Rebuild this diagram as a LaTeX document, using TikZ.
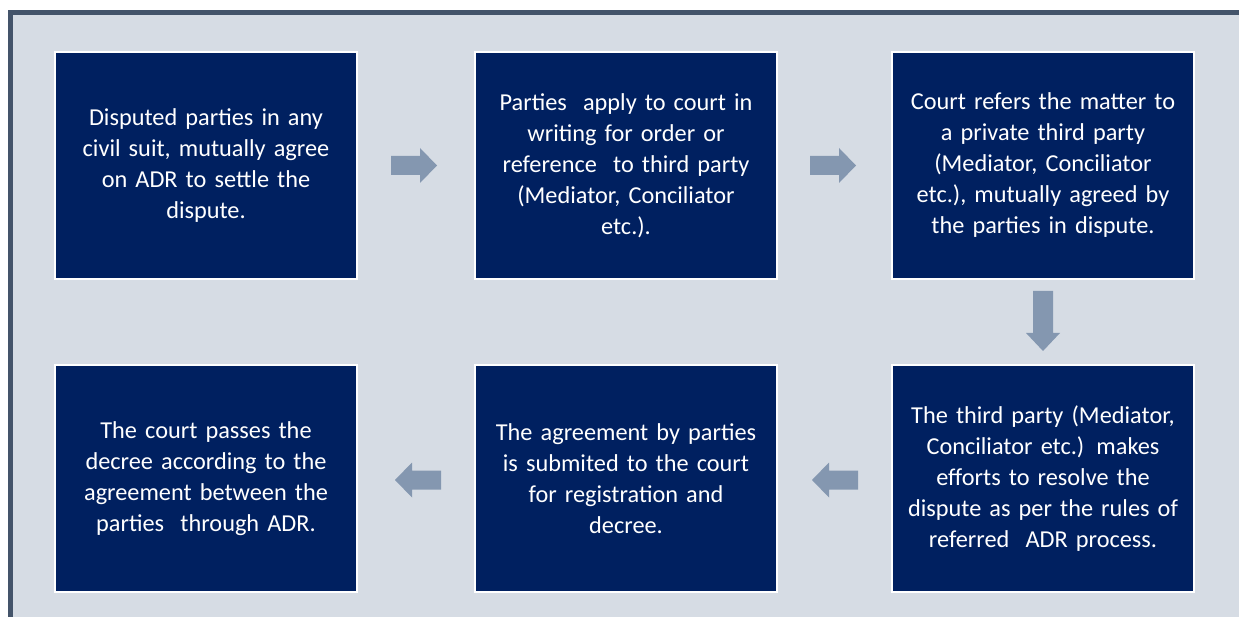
\documentclass[tikz,border=0pt]{standalone}
\usepackage{fontspec}
\setmainfont{Carlito}
\definecolor{bg}{HTML}{D6DCE4}
\definecolor{frame}{HTML}{44546A}
\definecolor{boxfill}{HTML}{002060}
\definecolor{arr}{HTML}{8497B0}
\begin{document}
\begin{tikzpicture}[x=1pt,y=-1pt,
  stepbox/.style={draw=white,line width=1.5pt,fill=boxfill,text=white,minimum width=302pt,minimum height=227pt,text width=285pt,align=center,font=\fontsize{24.3}{31}\selectfont,inner sep=0pt},
  arrowfill/.style={fill=arr,draw=none}]
\useasboundingbox (0,0) rectangle (1239,617);
\fill[white] (0,0) rectangle (1239,617);
\fill[bg] (10,12) rectangle (1239,617);
\fill[frame] (8,10) rectangle (1239,15);
\fill[frame] (8,10) rectangle (13,617);
\node[stepbox] (b1) at (206,165.5) {Disputed parties in any\\civil suit, mutually agree\\on ADR to settle the\\dispute.};
\node[stepbox] (b2) at (626,165.5) {Parties~ apply to court in\\writing for order or\\reference~ to third party\\(Mediator, Conciliator\\etc.).};
\node[stepbox] (b3) at (1043,165.5) {Court refers the matter to\\a private third party\\(Mediator, Conciliator\\etc.), mutually agreed by\\the parties in dispute.};
\node[stepbox] (b4) at (1043,478.5) {The third party (Mediator,\\Conciliator etc.) makes\\efforts to resolve the\\dispute as per the rules of\\referred~ ADR process.};
\node[stepbox] (b5) at (626,478.5) {The agreement by parties\\is submited to the court\\for registration and\\decree.};
\node[stepbox] (b6) at (206,478.5) {The court passes the\\decree according to the\\agreement between the\\parties~ through ADR.};
% arrows
\coordinate (a1) at (391,165.5);
\fill[arrowfill] (a1) ++(0,-9.5) -- ++(29,0) -- ++(0,-8) -- ++(17,17.5) -- ++(-17,17.5) -- ++(0,-8) -- ++(-29,0) -- cycle;
\coordinate (a2) at (810,165.5);
\fill[arrowfill] (a2) ++(0,-9.5) -- ++(29,0) -- ++(0,-8) -- ++(17,17.5) -- ++(-17,17.5) -- ++(0,-8) -- ++(-29,0) -- cycle;
\coordinate (a3) at (1043,291);
\fill[arrowfill] (a3) ++(-10,0) -- ++(20,0) -- ++(0,42) -- ++(7,0) -- ++(-17,18) -- ++(-17,-18) -- ++(7,0) -- cycle;
\coordinate (a4) at (858,480);
\fill[arrowfill] (a4) ++(0,-9.5) -- ++(-29,0) -- ++(0,-8) -- ++(-17,17.5) -- ++(17,17.5) -- ++(0,-8) -- ++(29,0) -- cycle;
\coordinate (a5) at (441,480);
\fill[arrowfill] (a5) ++(0,-9.5) -- ++(-29,0) -- ++(0,-8) -- ++(-17,17.5) -- ++(17,17.5) -- ++(0,-8) -- ++(29,0) -- cycle;
\end{tikzpicture}
\end{document}
